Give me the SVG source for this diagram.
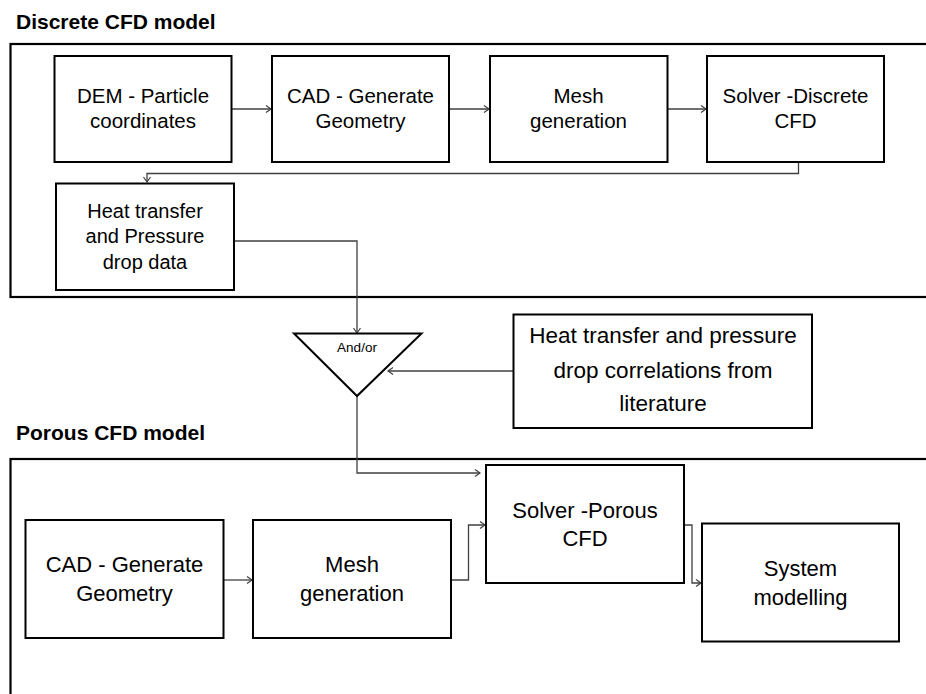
<svg xmlns="http://www.w3.org/2000/svg" width="926" height="694" viewBox="0 0 926 694">
<defs>
<marker id="ah" markerWidth="10" markerHeight="10" refX="7" refY="5" orient="auto" markerUnits="userSpaceOnUse">
<path d="M2,1.5 L7,5 L2,8.5" fill="none" stroke="#404040" stroke-width="1.2"/>
</marker>
<style>
.frame{fill:none;stroke:#000;stroke-width:2.2}
.box{fill:#fff;stroke:#000;stroke-width:2}
.t{font-family:"Liberation Sans",Arial,sans-serif;fill:#000;text-anchor:middle}
.title{font-family:"Liberation Sans",Arial,sans-serif;font-weight:bold;font-size:21px;fill:#000}
.conn{fill:none;stroke:#404040;stroke-width:1.3;marker-end:url(#ah)}
.line{fill:none;stroke:#404040;stroke-width:1.3}
</style>
</defs>
<rect width="926" height="694" fill="#fff"/>

<text class="title" x="16" y="29">Discrete CFD model</text>
<rect class="frame" x="10.5" y="44" width="930" height="253"/>
<text class="title" x="16" y="440">Porous CFD model</text>
<rect class="frame" x="10.5" y="459" width="930" height="260"/>

<g id="connectors">
<path class="conn" d="M231.5,109 H271"/>
<path class="conn" d="M449,109 H489"/>
<path class="conn" d="M667.5,109 H706"/>
<path class="conn" d="M798.5,162.5 V173.5 H147 V182"/>
<path class="conn" d="M234,241 H357 V333"/>
<path class="conn" d="M513.5,371 H388"/>
<path class="conn" d="M357,396 V473 H480"/>
<path class="conn" d="M223.5,580 H252"/>
<path class="conn" d="M450.7,580 H468.5 V525 H485"/>
<path class="conn" d="M684,525 H692 V583 H701"/>
</g>

<g id="dem">
<rect class="box" x="54.5" y="56" width="177" height="106"/>
<text class="t" font-size="20.5" x="143" y="103">DEM - Particle</text>
<text class="t" font-size="20.5" x="143" y="128">coordinates</text>
</g>
<g id="cad1">
<rect class="box" x="272" y="56" width="177" height="106"/>
<text class="t" font-size="20.5" x="360.5" y="103">CAD - Generate</text>
<text class="t" font-size="20.5" x="360.5" y="128">Geometry</text>
</g>
<g id="mesh1">
<rect class="box" x="490" y="56" width="177.5" height="106"/>
<text class="t" font-size="20.5" x="578.5" y="103">Mesh</text>
<text class="t" font-size="20.5" x="578.5" y="128">generation</text>
</g>
<g id="solver1">
<rect class="box" x="707" y="56" width="177" height="106"/>
<text class="t" font-size="20.5" x="795.5" y="103">Solver -Discrete</text>
<text class="t" font-size="20.5" x="795.5" y="128">CFD</text>
</g>
<g id="heat">
<rect class="box" x="56" y="183.5" width="178" height="106.5"/>
<text class="t" font-size="20" x="145" y="218">Heat transfer</text>
<text class="t" font-size="20" x="145" y="243">and Pressure</text>
<text class="t" font-size="20" x="145" y="269">drop data</text>
</g>

<g id="andor">
<polygon points="294,333.5 421.5,333.5 357,396" fill="#fff" stroke="#000" stroke-width="2" stroke-linejoin="miter"/>
<text class="t" font-size="13.5" x="357" y="351.5">And/or</text>
</g>
<g id="literature">
<rect class="box" x="513.5" y="314.5" width="298.5" height="113.5"/>
<text class="t" font-size="22.5" x="663" y="342.5">Heat transfer and pressure</text>
<text class="t" font-size="22.5" x="663" y="377.5">drop correlations from</text>
<text class="t" font-size="22.5" x="663" y="411">literature</text>
</g>

<g id="cad2">
<rect class="box" x="25.5" y="520" width="198" height="118"/>
<text class="t" font-size="22" x="124.5" y="572">CAD - Generate</text>
<text class="t" font-size="22" x="124.5" y="600.5">Geometry</text>
</g>
<g id="mesh2">
<rect class="box" x="253" y="520" width="198" height="118"/>
<text class="t" font-size="22" x="352" y="572">Mesh</text>
<text class="t" font-size="22" x="352" y="600.5">generation</text>
</g>
<g id="solver2">
<rect class="box" x="486" y="465" width="198" height="118"/>
<text class="t" font-size="22" x="585" y="518">Solver -Porous</text>
<text class="t" font-size="22" x="585" y="545.5">CFD</text>
</g>
<g id="system">
<rect class="box" x="702" y="523.5" width="197" height="118"/>
<text class="t" font-size="22" x="800.5" y="576">System</text>
<text class="t" font-size="22" x="800.5" y="605">modelling</text>
</g>
</svg>
